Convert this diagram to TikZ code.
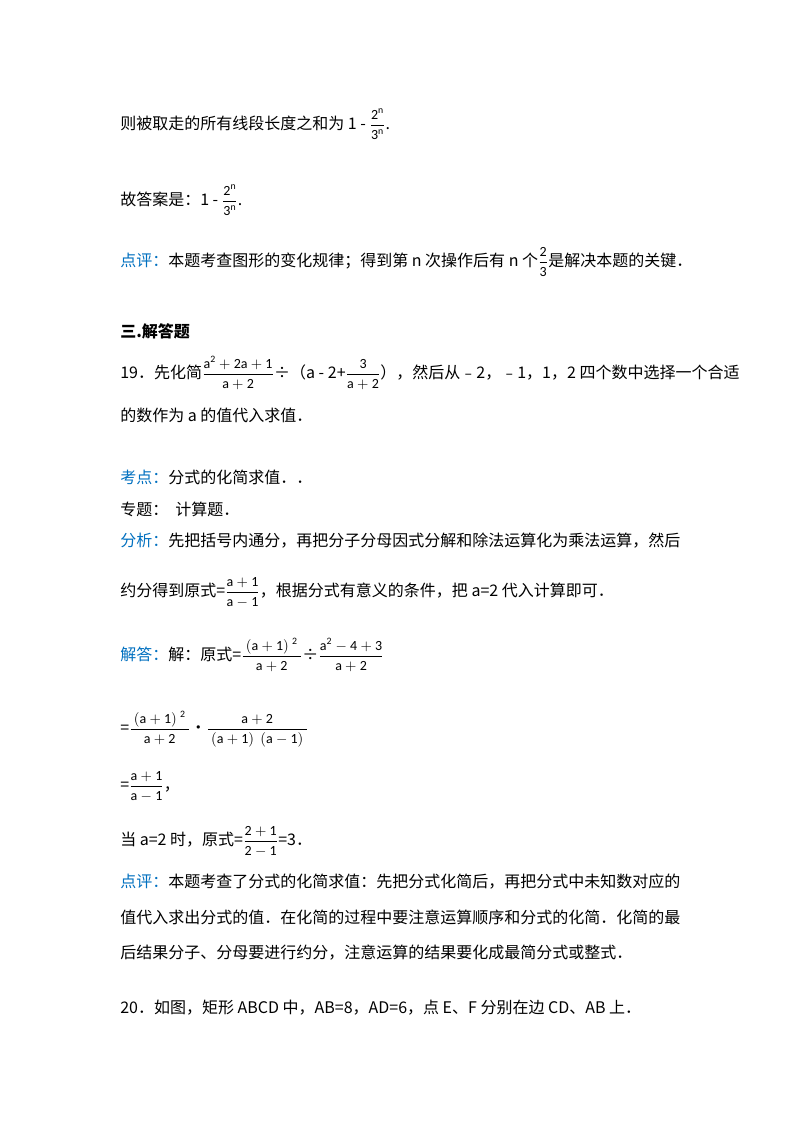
\documentclass[tikz,border=0pt]{standalone}
\usepackage{fontspec}
\setmainfont{Carlito}
\newfontfamily\cjk{Noto Sans CJK SC}
\definecolor{lblue}{RGB}{0,112,192}
\newcommand{\fr}[2]{{\fontsize{10.5}{11}\selectfont$\displaystyle\frac{\mathrm{#1}}{\mathrm{#2}}$}}
\begin{document}
\begin{tikzpicture}[x=0.75pt,y=-0.75pt,
  ln/.style={anchor=base west,inner sep=0pt,font=\fontsize{12}{14}\selectfont\cjk}]
\useasboundingbox (0,0) rectangle (800,1132);
\fill[white] (0,0) rectangle (800,1132);
\node[ln] (l1) at (120,129) {则被取走的所有线段长度之和为 1 - \fr{2^n}{3^n}.};
\node[ln] (l2) at (120,205) {故答案是：1 - \fr{2^n}{3^n}.};
\node[ln] (l3) at (120,266) {\textcolor{lblue}{点评：}本题考查图形的变化规律；得到第 n 次操作后有 n 个\fr{2}{3}是解决本题的关键．};
\node[ln,font=\fontsize{12}{14}\selectfont\cjk\bfseries] (l4) at (120,337) {三.解答题};
\node[ln] (l5) at (120,378) {19．先化简\fr{a^2+2a+1}{a+2}÷（a - 2+\fr{3}{a+2}），然后从﹣2，﹣1，1，2 四个数中选择一个合适};
\node[ln] (l6) at (120,421) {的数作为 a 的值代入求值．};
\node[ln] (l7) at (120,483) {\textcolor{lblue}{考点：}分式的化简求值．．};
\node[ln] (l8) at (120,515) {专题：\ \ 计算题．};
\node[ln] (l9) at (120,546) {\textcolor{lblue}{分析：}先把括号内通分，再把分子分母因式分解和除法运算化为乘法运算，然后};
\node[ln] (l10) at (120,596) {约分得到原式=\fr{a+1}{a-1}，根据分式有意义的条件，把 a=2 代入计算即可．};
\node[ln] (l11) at (120,660) {\textcolor{lblue}{解答：}解：原式=\fr{\ (a+1)\ ^2\ }{a+2}÷\fr{a^2-4+3}{a+2}};
\node[ln] (l12) at (120,733) {=\fr{\ (a+1)\ ^2\ }{a+2}•\fr{a+2}{\ (a+1)\ \ (a-1)\ }};
\node[ln] (l13) at (120,790) {=\fr{a+1}{a-1}，};
\node[ln] (l14) at (120,845) {当 a=2 时，原式=\fr{2+1}{2-1}=3．};
\node[ln] (l15) at (120,887) {\textcolor{lblue}{点评：}本题考查了分式的化简求值：先把分式化简后，再把分式中未知数对应的};
\node[ln] (l16) at (120,923) {值代入求出分式的值．在化简的过程中要注意运算顺序和分式的化简．化简的最};
\node[ln] (l17) at (120,958) {后结果分子、分母要进行约分，注意运算的结果要化成最简分式或整式．};
\node[ln] (l18) at (120,1013) {20．如图，矩形 ABCD 中，AB=8，AD=6，点 E、F 分别在边 CD、AB 上．};
\end{tikzpicture}
\end{document}
